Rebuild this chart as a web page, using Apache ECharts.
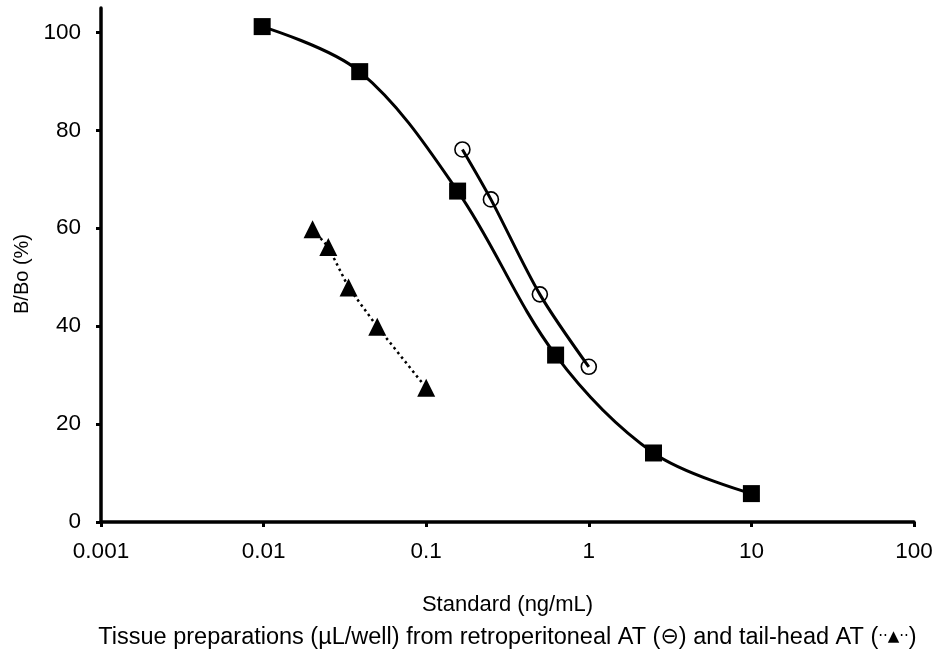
<!DOCTYPE html>
<html>
<head>
<meta charset="utf-8">
<script src="https://cdn.jsdelivr.net/npm/echarts@6/dist/echarts.min.js"></script>
<style>
  html, body { margin: 0; padding: 0; background: #fff; }
  #chart { width: 939px; height: 657px; }
</style>
</head>
<body>
<div id="chart"></div>
<script>
/* Standard curve (B/Bo) with retroperitoneal and tail-head AT dilutions, log x axis. */

// standard, ng/mL (4-fold dilutions)
const stdX = [0.0098, 0.039, 0.156, 0.625, 2.5, 10];
const stdY = [101.2, 92.0, 67.6, 34.1, 14.1, 5.8];

// retroperitoneal AT, µL/well
const retroX = [0.167, 0.25, 0.5, 1];
const retroY = [76.1, 65.9, 46.5, 31.7];

// tail-head AT, µL/well
const tailX = [0.02, 0.025, 0.0333, 0.05, 0.1];
const tailY = [59.8, 56.2, 47.9, 39.9, 27.4];

const yTicks = [0, 20, 40, 60, 80, 100];

const INK = '#000';
const FONT = '"Liberation Sans", Arial, sans-serif';

const pairs = (xs, ys) => xs.map((x, i) => [x, ys[i]]);

const option = {
  animation: false,
  backgroundColor: '#fff',
  grid: { left: 101, right: 25, top: 8, bottom: 135, outerBoundsMode: 'none', containLabel: false },
  xAxis: {
    type: 'log',
    logBase: 10,
    min: 0.001, max: 100,
    name: '{a|Standard (ng/mL)}\n{b|Tissue preparations (µL/well) from retroperitoneal AT (}{c|⊖}{b|) and tail-head AT (}{t|··▲··}{b|)}',
    nameLocation: 'middle',
    nameGap: 66,
    nameTextStyle: {
      color: INK, fontFamily: FONT, fontSize: 22, lineHeight: 33,
      rich: {
        a: { fontFamily: FONT, fontSize: 22, color: INK, lineHeight: 33 },
        b: { fontFamily: FONT, fontSize: 23.5, color: INK, lineHeight: 33 },
        c: { fontFamily: '"DejaVu Sans", sans-serif', fontSize: 22, color: INK, lineHeight: 33 },
        t: { fontFamily: '"DejaVu Sans", sans-serif', fontSize: 15, color: INK, lineHeight: 33 },
      },
    },
    axisLine: { lineStyle: { color: INK, width: 3.5 } },
    axisTick: { inside: false, length: 5, lineStyle: { color: INK, width: 3 } },
    axisLabel: {
      color: INK, fontFamily: FONT, fontSize: 22.5, margin: 18,
      formatter: v => String(+(+v).toPrecision(3)),
    },
    splitLine: { show: false },
    minorTick: { show: false },
  },
  yAxis: {
    type: 'value',
    min: 0, max: 105, interval: 20,
    name: 'B/Bo (%)',
    nameLocation: 'middle',
    nameGap: 66,
    nameTextStyle: { color: INK, fontFamily: FONT, fontSize: 20, padding: [0, 0, 0, -18] },
    axisLine: { show: true, lineStyle: { color: INK, width: 3.5 } },
    axisTick: { show: true, length: 5, lineStyle: { color: INK, width: 3 }, customValues: yTicks },
    axisLabel: { color: INK, fontFamily: FONT, fontSize: 22.5, margin: 20, customValues: yTicks },
    splitLine: { show: false },
  },
  series: [
    {
      name: 'standard',
      type: 'line',
      data: pairs(stdX, stdY),
      smooth: 0.35,
      symbol: 'rect',
      symbolSize: 17,
      lineStyle: { color: INK, width: 3 },
      itemStyle: { color: INK },
      z: 3,
    },
    {
      name: 'retroperitoneal AT',
      type: 'line',
      data: pairs(retroX, retroY),
      smooth: 0.3,
      symbol: 'circle',
      symbolSize: 15,
      lineStyle: { color: INK, width: 3 },
      itemStyle: { color: 'rgba(255,255,255,0)', borderColor: INK, borderWidth: 1.6 },
      z: 4,
    },
    {
      name: 'tail-head AT',
      type: 'line',
      data: pairs(tailX, tailY),
      symbol: 'triangle',
      symbolSize: 18,
      lineStyle: { color: INK, width: 2.5, type: [2.5, 3.5] },
      itemStyle: { color: INK },
      z: 4,
    },
  ],
};

const chart = echarts.init(document.getElementById('chart'), null, { renderer: 'canvas' });
chart.setOption(option);
</script>
</body>
</html>
